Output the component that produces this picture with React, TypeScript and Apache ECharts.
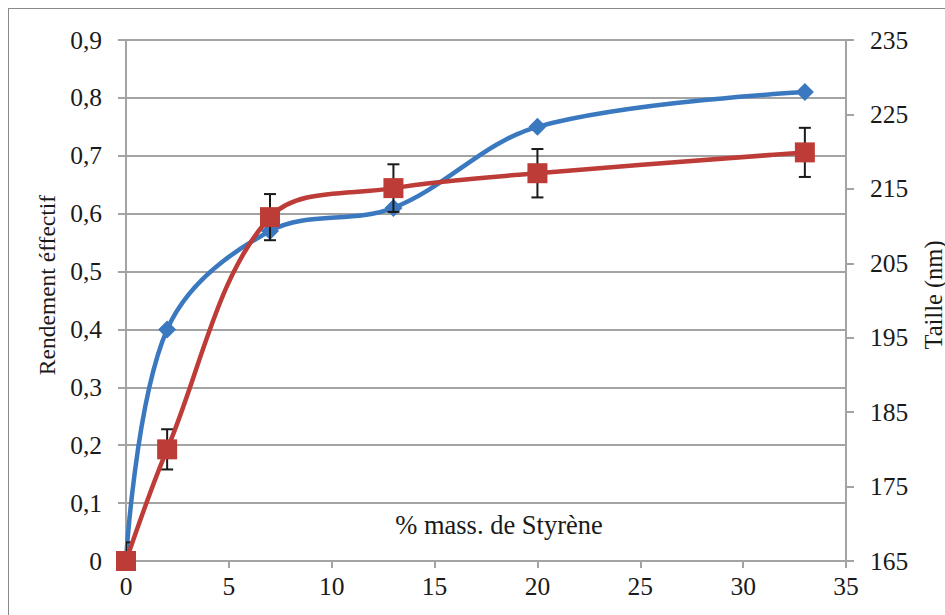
import React, { useEffect, useRef } from "react";
import * as echarts from "echarts";

// % mass. de Styrène
const styrene = [0, 2, 7, 13, 20, 33];
// Rendement effectif (left axis)
const rendement = [0, 0.4, 0.57, 0.61, 0.75, 0.81];
// Taille en nm (right axis)
const taille = [165, 180, 211.2, 215.1, 217.1, 219.9];
// Écart sur la taille (nm)
const tailleErr = [2.5, 2.7, 3.1, 3.2, 3.25, 3.3];

const xTicks = { min: 0, max: 35, interval: 5 };
const leftTicks = { min: 0, max: 0.9, interval: 0.1 };
const rightTicks = { min: 165, max: 235, interval: 10 };

const FONT = "Liberation Serif";
const AXIS_GRAY = "#a3a3a3";
const BLUE = "#3a79bf";
const RED = "#be3c37";
const INK = "#1a1a1a";

export default function App() {
  const ref = useRef<HTMLDivElement>(null);

  useEffect(() => {
    if (!ref.current) return;
    const chart = echarts.init(ref.current, undefined, { renderer: "svg" });

    const errData = styrene.map((x, i) => [x, taille[i] - tailleErr[i], taille[i] + tailleErr[i]]);

    const labelStyle = { fontFamily: FONT, fontSize: 25.5, color: INK };
    const titleStyle = {
      fontFamily: FONT,
      fill: INK,
      align: "center",
      verticalAlign: "middle",
    };

    chart.setOption({
      animation: false,
      backgroundColor: "#fff",
      textStyle: { fontFamily: FONT },
      grid: { left: 117, top: 31, width: 720, height: 521, containLabel: false },
      xAxis: {
        type: "value",
        ...xTicks,
        axisLine: { show: true, onZero: false, lineStyle: { color: AXIS_GRAY, width: 2 } },
        axisTick: { show: true, inside: false, length: 7, lineStyle: { color: AXIS_GRAY, width: 2 } },
        axisLabel: { ...labelStyle, margin: 12 },
        splitLine: { show: false },
      },
      yAxis: [
        {
          type: "value",
          position: "left",
          ...leftTicks,
          axisLine: { show: true, lineStyle: { color: AXIS_GRAY, width: 2 } },
          axisTick: { show: true, length: 8, lineStyle: { color: AXIS_GRAY, width: 2 } },
          axisLabel: {
            ...labelStyle,
            margin: 24,
            formatter: (v: number) => (v === 0 ? "0" : v.toFixed(1).replace(".", ",")),
          },
          splitLine: { show: true, lineStyle: { color: AXIS_GRAY, width: 2 } },
        },
        {
          type: "value",
          position: "right",
          ...rightTicks,
          axisLine: { show: true, lineStyle: { color: AXIS_GRAY, width: 2 } },
          axisTick: { show: true, length: 8, lineStyle: { color: AXIS_GRAY, width: 2 } },
          axisLabel: { ...labelStyle, margin: 24 },
          splitLine: { show: false },
        },
      ],
      graphic: [
        {
          type: "text",
          x: 490,
          y: 516,
          style: { ...titleStyle, fontSize: 26.5, text: "% mass. de Styrène" },
        },
        {
          type: "text",
          x: 38,
          y: 276,
          rotation: Math.PI / 2,
          style: { ...titleStyle, fontSize: 23.5, text: "Rendement éffectif" },
        },
        {
          type: "text",
          x: 924,
          y: 286,
          rotation: Math.PI / 2,
          style: { ...titleStyle, fontSize: 24.5, text: "Taille (nm)" },
        },
      ],
      series: [
        {
          type: "line",
          name: "Rendement effectif",
          yAxisIndex: 0,
          data: styrene.map((x, i) => [x, rendement[i]]),
          smooth: 0.35,
          symbol: "diamond",
          symbolSize: 18,
          lineStyle: { color: BLUE, width: 4.5 },
          itemStyle: { color: BLUE },
          z: 2,
        },
        {
          type: "custom",
          name: "Écart",
          yAxisIndex: 1,
          data: errData,
          clip: true,
          z: 3,
          renderItem: (params: any, api: any) => {
            const x = api.value(0);
            const lo = api.coord([x, api.value(1)]);
            const hi = api.coord([x, api.value(2)]);
            const half = 6;
            const style = { stroke: INK, lineWidth: 2 };
            return {
              type: "group",
              children: [
                { type: "line", shape: { x1: lo[0], y1: lo[1], x2: hi[0], y2: hi[1] }, style },
                { type: "line", shape: { x1: lo[0] - half, y1: lo[1], x2: lo[0] + half, y2: lo[1] }, style },
                { type: "line", shape: { x1: hi[0] - half, y1: hi[1], x2: hi[0] + half, y2: hi[1] }, style },
              ],
            };
          },
        },
        {
          type: "line",
          name: "Taille (nm)",
          yAxisIndex: 1,
          data: styrene.map((x, i) => [x, taille[i]]),
          smooth: 0.35,
          symbol: "rect",
          symbolSize: 20,
          lineStyle: { color: RED, width: 4.5 },
          itemStyle: { color: RED },
          z: 4,
        },
      ],
    });

    return () => chart.dispose();
  }, []);

  return (
    <div
      style={{
        position: "fixed",
        left: 8,
        top: 8,
        width: 937,
        height: 607,
        overflow: "hidden",
        background: "#fff",
      }}
    >
      <div style={{ border: "1px solid #8a8a8a", width: 945, height: 615 }}>
        <div ref={ref} style={{ width: 945, height: 615 }} />
      </div>
    </div>
  );
}
